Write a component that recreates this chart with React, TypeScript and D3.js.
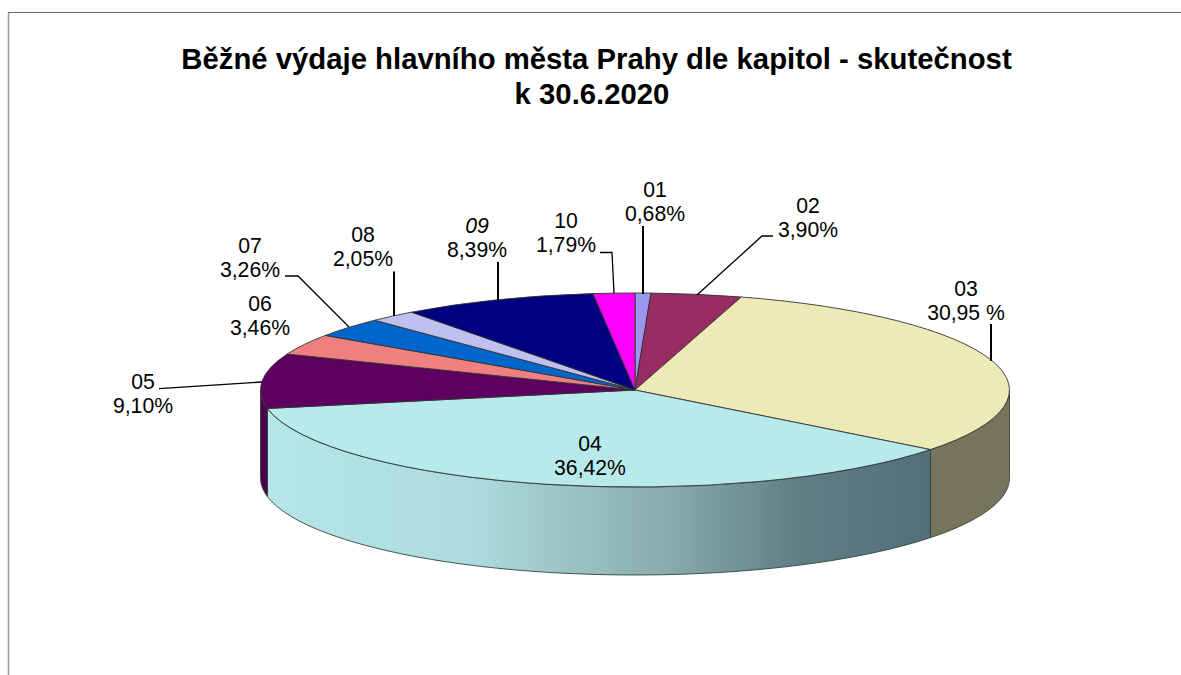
import React from "react";
import * as d3 from "d3";

const categories = ["01", "02", "03", "04", "05", "06", "07", "08", "09", "10"];
const shares = [0.68, 3.9, 30.95, 36.42, 9.1, 3.46, 3.26, 2.05, 8.39, 1.79];
const valueLabels = ["0,68%", "3,90%", "30,95 %", "36,42%", "9,10%", "3,46%", "3,26%", "2,05%", "8,39%", "1,79%"];
const topColors = ["#9a96ee", "#962c62", "#eeeab8", "#b8eaec", "#5e0060", "#f08080", "#0066cc", "#c0c0f0", "#000080", "#ff00ff"];
const sideColors = ["#5c5a90", "#5c1f3d", "#76745a", "url(#side04)", "#4c004c", "#905050", "#003d7a", "#737390", "#00004c", "#990099"];
const titleLines = ["Běžné výdaje hlavního města Prahy dle kapitol - skutečnost", "k 30.6.2020"];

// label centre (x, first-line baseline) and leader polyline
const titleX = [596.5, 592];
const titleY = [69, 104];
const labelX = [655, 808, 966, 590, 143, 260, 250, 363, 477, 566];
const labelY = [197, 213, 296, 451, 389, 311, 253, 242, 233, 228];
const leaders: [number, number][][] = [
  [[643, 226], [643, 294]],
  [[773, 236], [762, 236], [697, 295]],
  [[991, 324], [991, 361]],
  [],
  [[159, 388.7], [262, 382]],
  [],
  [[285, 276], [298, 276], [349, 327]],
  [[394, 271.5], [394, 316]],
  [[498, 262], [498, 300]],
  [[600, 252.5], [612, 252.5], [614, 293]],
];

const gradOffsets = [0, 0.3, 0.45, 0.62, 0.8, 1];
const gradColors = ["#b6e6e8", "#aedcde", "#9cc4c6", "#86a8aa", "#5f7e84", "#52707a"];

const W = 1181, H = 675;
const cx = 635, cy = 390, rx = 374.5, ry = 97, depth = 88;

const pie = d3.pie<number>().sort(null).startAngle(0).endAngle(2 * Math.PI);
const arcs = pie(shares);
const arcGen = d3.arc<d3.PieArcDatum<number>>().innerRadius(0).outerRadius(rx);

const px = (t: number) => cx + rx * Math.sin(t);
const py = (t: number) => cy - ry * Math.cos(t);

function wall(a0: number, a1: number) {
  const lo = Math.max(a0, Math.PI / 2), hi = Math.min(a1, (3 * Math.PI) / 2);
  if (hi <= lo) return null;
  const ts = d3.range(0, 61).map((i) => lo + ((hi - lo) * i) / 60);
  const line = d3.line<[number, number]>();
  const top = ts.map((t) => [px(t), py(t)] as [number, number]);
  const bottom = ts.slice().reverse().map((t) => [px(t), py(t) + depth] as [number, number]);
  return line([...top, ...bottom]) + "Z";
}

export default function App() {
  const leaderLine = d3.line();
  return (
    <svg width={W} height={H} viewBox={`0 0 ${W} ${H}`} style={{ position: "absolute", left: 0, top: 0, background: "#fff" }} fontFamily="'Liberation Sans', Arial, sans-serif">
      <defs>
        <linearGradient id="side04" gradientUnits="userSpaceOnUse" x1={px(arcs[3].endAngle)} x2={px(arcs[3].startAngle)} y1={0} y2={0}>
          {gradOffsets.map((o, i) => <stop key={i} offset={o} stopColor={gradColors[i]} />)}
        </linearGradient>
      </defs>
      <path d="M8.5,675V12" fill="none" stroke="#999" strokeWidth={1.5} />
      <path d="M8,12.5H1181" fill="none" stroke="#666" strokeWidth={1} />
      {titleLines.map((t, i) => (
        <text key={i} x={titleX[i]} y={titleY[i]} textAnchor="middle" fontWeight="bold" fontSize={29.3} fill="#000">{t}</text>
      ))}
      {arcs.map((a, i) => {
        const d = wall(a.startAngle, a.endAngle);
        return d ? <path key={i} d={d} fill={sideColors[i]} stroke="#2f4444" strokeWidth={0.9} /> : null;
      })}
      <g transform={`translate(${cx},${cy}) scale(1,${ry / rx})`}>
        {arcs.map((a, i) => (
          <path key={i} d={arcGen(a) || ""} fill={topColors[i]} stroke="#333" strokeWidth={0.9} vectorEffect="non-scaling-stroke" />
        ))}
      </g>
      {leaders.map((pts, i) => pts.length ? (
        <path key={i} d={leaderLine(pts) || ""} fill="none" stroke="#000" strokeWidth={i === 0 || i === 2 || i === 7 || i === 8 ? 2 : 1.3} />
      ) : null)}
      {categories.map((c, i) => (
        <text key={c} textAnchor="middle" fontSize={21.2} fill="#000">
          <tspan x={labelX[i]} y={labelY[i]} fontStyle={c === "09" ? "italic" : "normal"}>{c}</tspan>
          <tspan x={labelX[i]} y={labelY[i] + 24}>{valueLabels[i]}</tspan>
        </text>
      ))}
    </svg>
  );
}
